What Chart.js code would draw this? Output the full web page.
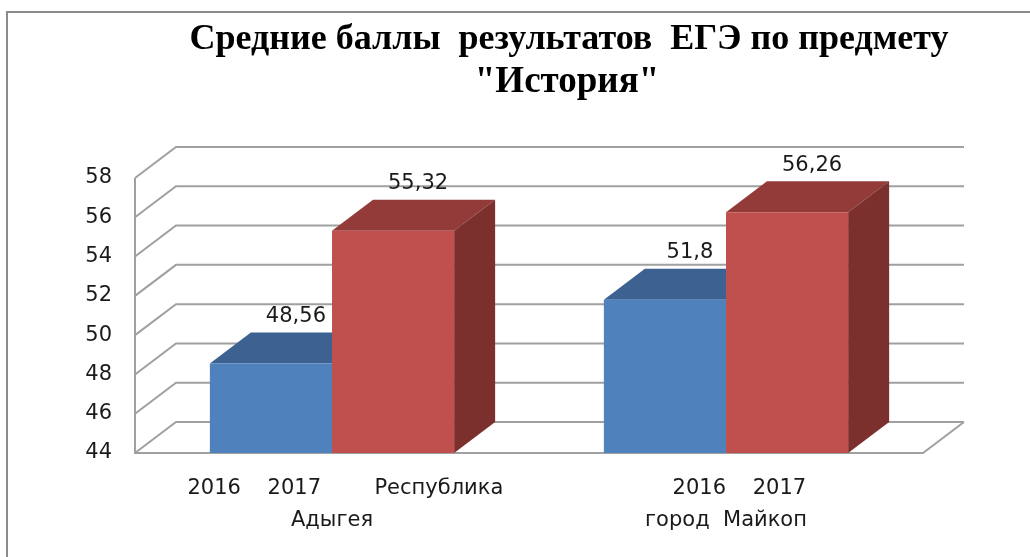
<!DOCTYPE html>
<html>
<head>
<meta charset="utf-8">
<script src="https://cdn.jsdelivr.net/npm/chart.js@4.4.0/dist/chart.umd.min.js"></script>
<style>
  html, body { margin: 0; padding: 0; background: #fff; }
</style>
</head>
<body>
<canvas id="myChart" width="1030" height="557"></canvas>
<script>
// data
const categories = [
  ["    2016    2017        Республика", "Адыгея"],
  ["    2016    2017", "город  Майкоп"]
];
const values2016 = [48.56, 51.8];
const values2017 = [55.32, 56.26];
const yMin = 44, yMax = 58, yStep = 2;
const titleLines = ["Средние баллы  результатов  ЕГЭ по предмету", "\"История\""];

// depth of the fake 3d look
const DX = 41, DY = -31;
const lineGrey = "#a0a0a0";
const topColors = ["#3d6291", "#933b39"];
const sideColors = ["#355683", "#7c302e"];
const textFont = "DejaVu Sans";

function fmt(v) {
  return String(v).replace(".", ",");
}

const box3d = {
  id: "box3d",
  beforeDraw(chart) {
    const ctx = chart.ctx;
    ctx.save();
    ctx.fillStyle = "#fff";
    ctx.fillRect(0, 0, chart.width, chart.height);
    // outer frame (cropped on right and bottom)
    ctx.strokeStyle = "#8c8c8c";
    ctx.lineWidth = 2;
    ctx.beginPath();
    ctx.moveTo(7, chart.height);
    ctx.lineTo(7, 12);
    ctx.lineTo(chart.width, 12);
    ctx.stroke();
    // title
    ctx.fillStyle = "#000";
    ctx.font = 'bold 36px "Liberation Serif"';
    ctx.textAlign = "center";
    ctx.textBaseline = "alphabetic";
    ctx.fillText(titleLines[0], 569, 49);
    ctx.font = 'bold 37px "Liberation Serif"';
    ctx.fillText(titleLines[1], 567, 92);
    ctx.restore();
  },
  beforeDatasetsDraw(chart) {
    const ctx = chart.ctx;
    const a = chart.chartArea;
    const y = chart.scales.y;
    ctx.save();
    ctx.strokeStyle = lineGrey;
    ctx.lineWidth = 2;
    for (let v = yMin; v <= yMax; v += yStep) {
      const py = y.getPixelForValue(v);
      ctx.beginPath();
      ctx.moveTo(a.left, py);
      ctx.lineTo(a.left + DX, py + DY);
      ctx.lineTo(a.right + DX, py + DY);
      ctx.stroke();
    }
    // front edges of the walls and floor
    ctx.beginPath();
    ctx.moveTo(a.left, y.getPixelForValue(yMax));
    ctx.lineTo(a.left, a.bottom);
    ctx.lineTo(a.right, a.bottom);
    ctx.lineTo(a.right + DX, a.bottom + DY);
    ctx.stroke();

    // tops and sides of the bars
    chart.data.datasets.forEach((ds, i) => {
      chart.getDatasetMeta(i).data.forEach(bar => {
        const l = bar.x - bar.width / 2;
        const r = bar.x + bar.width / 2;
        const t = bar.y;
        const b = Math.min(bar.base, a.bottom);
        ctx.fillStyle = topColors[i];
        ctx.beginPath();
        ctx.moveTo(l, t);
        ctx.lineTo(r, t);
        ctx.lineTo(r + DX, t + DY);
        ctx.lineTo(l + DX, t + DY);
        ctx.closePath();
        ctx.fill();
        ctx.fillStyle = sideColors[i];
        ctx.beginPath();
        ctx.moveTo(r, t);
        ctx.lineTo(r + DX, t + DY);
        ctx.lineTo(r + DX, b + DY);
        ctx.lineTo(r, b);
        ctx.closePath();
        ctx.fill();
      });
    });
    ctx.restore();
  },
  afterDatasetsDraw(chart) {
    const ctx = chart.ctx;
    ctx.save();
    ctx.fillStyle = "#1a1a1a";
    ctx.font = '21px "' + textFont + '"';
    ctx.textAlign = "center";
    ctx.textBaseline = "middle";
    chart.data.datasets.forEach((ds, i) => {
      chart.getDatasetMeta(i).data.forEach((bar, j) => {
        ctx.fillText(fmt(ds.data[j]), bar.x + 25, bar.y + DY - 16);
      });
    });
    ctx.restore();
  }
};

const data = {
  labels: categories,
  datasets: [
    {
      label: "2016",
      backgroundColor: "#4f81bd",
      data: values2016
    },
    {
      label: "2017",
      backgroundColor: "#c0504d",
      data: values2017
    }
  ]
};

const config = {
  type: "bar",
  data: data,
  options: {
    responsive: false,
    animation: false,
    layout: { padding: { top: 178, right: 107, left: 0, bottom: 0 } },
    datasets: {
      bar: { categoryPercentage: 0.62, barPercentage: 1.0, borderWidth: 0 }
    },
    plugins: {
      legend: { display: false },
      title: { display: false },
      tooltip: { enabled: false }
    },
    scales: {
      x: {
        grid: { display: false, drawTicks: false },
        border: { display: false },
        ticks: {
          color: "#1a1a1a",
          font: { family: textFont, size: 21, lineHeight: 1.55 },
          padding: 19,
          maxRotation: 0,
          autoSkip: false
        },
        afterFit(scale) { scale.height = 104; }
      },
      y: {
        min: yMin,
        max: yMax,
        grid: { display: false, drawTicks: false },
        border: { display: false },
        ticks: {
          stepSize: yStep,
          color: "#1a1a1a",
          font: { family: textFont, size: 21 },
          padding: 23
        },
        afterFit(scale) { scale.width = 135; }
      }
    }
  },
  plugins: [box3d]
};

const myChart = new Chart(document.getElementById("myChart"), config);
</script>
</body>
</html>
